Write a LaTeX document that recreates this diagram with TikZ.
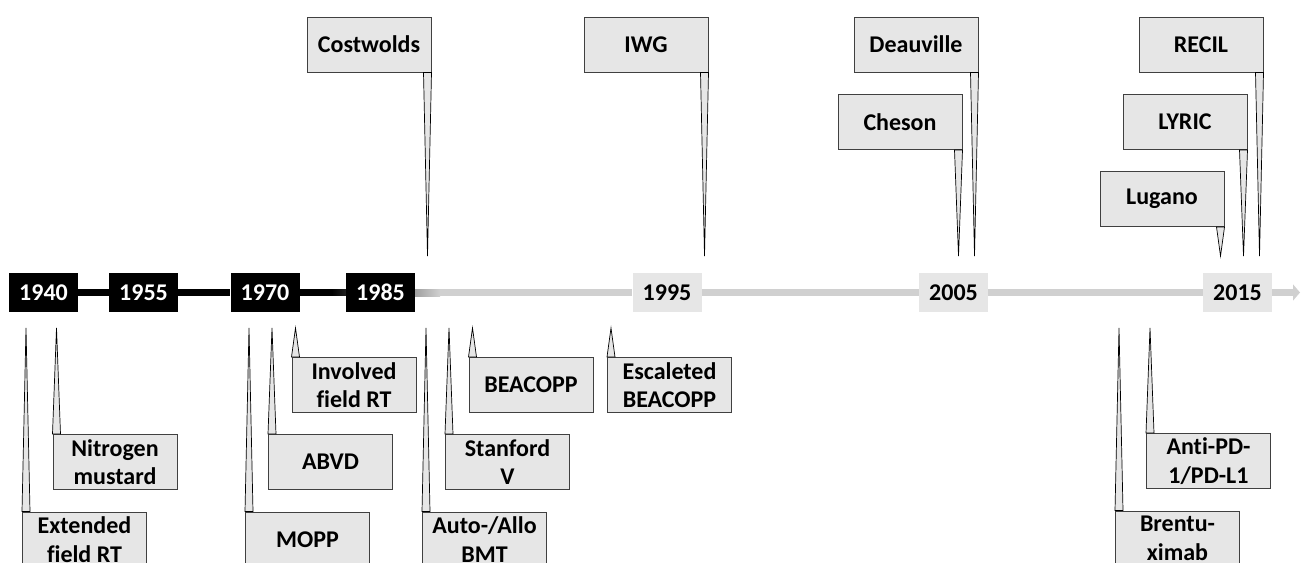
\documentclass[tikz,border=0pt]{standalone}
\usepackage{fontspec}
\setmainfont{Carlito}[Ligatures=NoCommon]
\usetikzlibrary{arrows.meta}
\definecolor{timegray}{HTML}{D0D0D0}
\definecolor{boxgray}{HTML}{E6E6E6}
\begin{document}
\begin{tikzpicture}[x=1pt,y=-1pt,
  event/.style={draw=black!75,line width=1pt,fill=boxgray,minimum width=124pt,minimum height=55pt,inner sep=0pt,align=center,font=\bfseries\fontsize{24}{28.5}\selectfont},
  yearblack/.style={fill=black,text=white,minimum width=69pt,minimum height=39pt,inner sep=0pt,font=\bfseries\fontsize{24}{27}\selectfont},
  yeargray/.style={yearblack,fill=boxgray,text=black},
  blackline/.style={line width=6.5pt,black},
  grayline/.style={line width=7pt,timegray},
  pointer/.style={draw=black,line width=0.7pt,fill=boxgray,line join=miter}]
\useasboundingbox (0,0) rectangle (1303,562);
\clip (0,0) rectangle (1303,562);

\coordinate (toptip) at (0,256);
\coordinate (bottip) at (0,328);
\coordinate (tlend) at (1300,292.5);

\node[yearblack] (y1940) at (43.5,292.5) {1940};
\node[yearblack] (y1955) at (143.5,292.5) {1955};
\node[yearblack] (y1970) at (265,292.5) {1970};
\node[yearblack] (y1985) at (380.5,292.5) {1985};
\node[yeargray] (y1995) at (667,292.5) {1995};
\node[yeargray] (y2005) at (953.5,292.5) {2005};
\node[yeargray] (y2015) at (1237.5,292.5) {2015};

\draw[blackline] (y1940) -- (y1955) (y1955) -- (y1970);
\draw[blackline] (y1970) -- ([xshift=-14pt]y1985.west);
\shade[left color=black,right color=black!85!timegray] ([xshift=-14pt,yshift=-3.25pt]y1985.west) rectangle ([yshift=3.25pt]y1985.west);
\draw[grayline] ([xshift=25pt]y1985.east) -- (y1995) (y1995) -- (y2005) (y2005) -- (y2015);
\shade[left color=timegray!77!black,right color=timegray] ([yshift=-3.5pt]y1985.east) rectangle ([xshift=25pt,yshift=3.5pt]y1985.east);
\draw[grayline,-{Triangle[length=7pt,width=16pt]}] (y2015) -- (tlend);

\node[event] (cost) at (369,44.5) {Costwolds};
\node[event] (iwg) at (646,44.5) {IWG};
\node[event] (deau) at (916,44.5) {Deauville};
\node[event] (cheson) at (900,122) {Cheson};
\node[event] (recil) at (1201,44.5) {RECIL};
\node[event] (lyric) at (1185,122) {LYRIC};
\node[event] (lugano) at (1162,199) {Lugano};

\foreach \ev in {cost,iwg,deau,cheson,recil,lyric,lugano}
  \draw[pointer] ([xshift=-8pt]\ev.south east) -- ([xshift=-4pt]\ev.south east |- toptip) -- (\ev.south east) -- cycle;

\node[event] (extrt) at (84.5,539.5) {Extended\\field RT};
\node[event] (nitro) at (115,462) {Nitrogen\\mustard};
\node[event] (mopp) at (307.5,539.5) {MOPP};
\node[event] (abvd) at (330.5,462) {ABVD};
\node[event] (invrt) at (354,385) {Involved\\field RT};
\node[event] (bmt) at (484.5,539.5) {Auto-/Allo\\BMT};
\node[event] (stanv) at (507.5,462) {Stanford\\V};
\node[event] (beacopp) at (531,385) {BEACOPP};
\node[event] (escbea) at (669.5,385) {Escaleted\\BEACOPP};
\node[event] (brentu) at (1177.5,538.5) {Brentu-\\ximab};
\node[event] (antipd) at (1208.5,461) {Anti-PD-\\1/PD-L1};

\foreach \ev in {extrt,nitro,mopp,abvd,invrt,bmt,stanv,beacopp,escbea,brentu,antipd}
  \draw[pointer] (\ev.north west) -- ([xshift=4pt]\ev.north west |- bottip) -- ([xshift=8pt]\ev.north west) -- cycle;
\end{tikzpicture}
\end{document}
